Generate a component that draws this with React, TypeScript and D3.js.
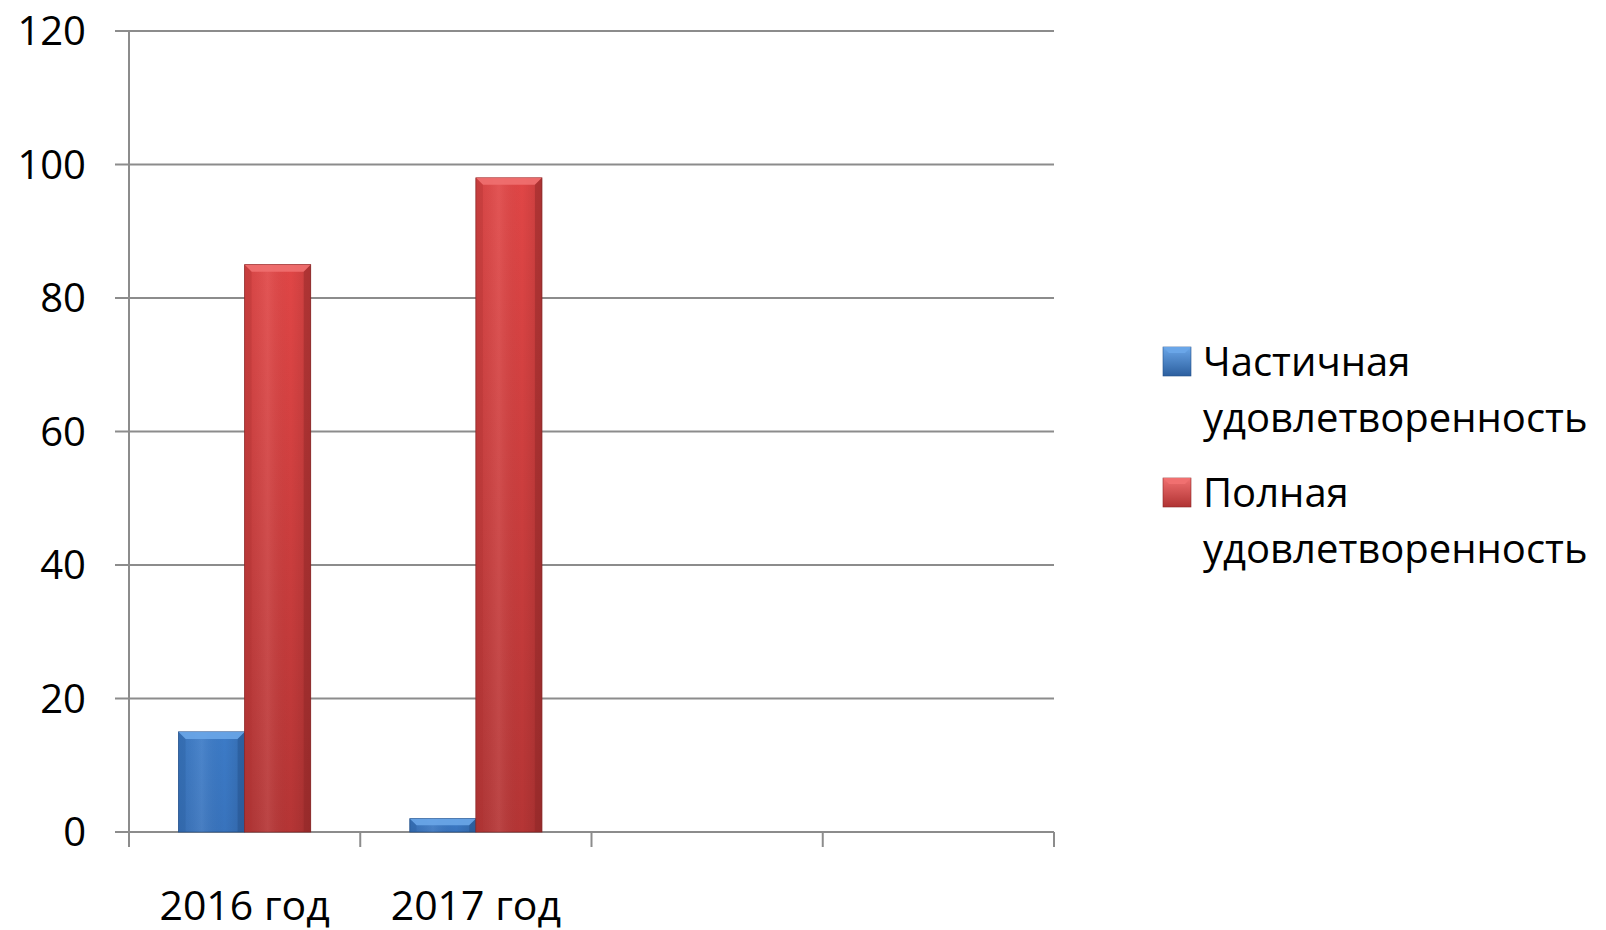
import React from "react";
import * as d3 from "d3";

const categories = ["2016 год", "2017 год", "", ""];
const seriesNames = ["Частичная удовлетворенность", "Полная удовлетворенность"];
const partial = [15, 2, null, null];
const full = [85, 98, null, null];
const yTicks = [0, 20, 40, 60, 80, 100, 120];

const W = 1606;
const H = 930;
const M = { left: 129, right: 1054, top: 31, bottom: 832 };
const FONT = "'Open Sans', 'Noto Sans', sans-serif";

const colors = [
  { light: "#6aa6e8", main: "#3c7bc7", dark: "#2c5f9f", edge: "#24508a" },
  { light: "#f07070", main: "#d94343", dark: "#b03333", edge: "#8c2626" },
];

export default function App() {
  const x = d3.scaleBand<string>().domain(categories.map((c, i) => String(i))).range([M.left, M.right]).paddingInner(0).paddingOuter(0);
  const y = d3.scaleLinear().domain([0, 120]).range([M.bottom, M.top]);
  const step = x.bandwidth();
  const barW = step / 3.5;
  const offset = (step - 2 * barW) / 2;
  const series = [partial, full];

  const bars: React.ReactNode[] = [];
  categories.forEach((c, i) => {
    series.forEach((s, si) => {
      const v = s[i];
      if (v == null) return;
      const x0 = (x(String(i)) as number) + offset + si * barW;
      const y0 = y(v);
      const h = y(0) - y0;
      const bv = Math.min(7, h / 2);
      bars.push(
        <g key={`${i}-${si}`}>
          <rect x={x0} y={y0} width={barW} height={h} fill={`url(#grad${si})`} stroke={colors[si].edge} strokeWidth={0.8} />
          <rect x={x0} y={y0} width={barW} height={h} fill={`url(#hgrad${si})`} />
          <polygon
            points={`${x0},${y0} ${x0 + barW},${y0} ${x0 + barW - bv},${y0 + bv} ${x0 + bv},${y0 + bv}`}
            fill={colors[si].light}
            opacity={0.9}
          />
          <polygon
            points={`${x0},${y0} ${x0 + bv},${y0 + bv} ${x0 + bv},${y0 + h} ${x0},${y0 + h}`}
            fill={colors[si].dark}
            opacity={0.35}
          />
          <polygon
            points={`${x0 + barW},${y0} ${x0 + barW - bv},${y0 + bv} ${x0 + barW - bv},${y0 + h} ${x0 + barW},${y0 + h}`}
            fill={colors[si].edge}
            opacity={0.45}
          />
        </g>
      );
    });
  });

  const legendY = [376, 507];
  const mk = 28;

  return (
    <svg width={W} height={H} style={{ position: "absolute", left: 0, top: 0, background: "#fff" }}>
      <defs>
        {colors.map((c, i) => (
          <linearGradient key={i} id={`grad${i}`} x1="0" y1="0" x2="0" y2="1">
            <stop offset="0%" stopColor={i === 1 ? "#e04646" : c.main} />
            <stop offset="100%" stopColor={i === 1 ? "#b53535" : "#3873bd"} />
          </linearGradient>
        ))}
        {colors.map((c, i) => (
          <linearGradient key={`h${i}`} id={`hgrad${i}`} x1="0" y1="0" x2="1" y2="0">
            <stop offset="0%" stopColor="#000" stopOpacity={0.05} />
            <stop offset="35%" stopColor="#fff" stopOpacity={0.08} />
            <stop offset="70%" stopColor="#000" stopOpacity={0.0} />
            <stop offset="100%" stopColor="#000" stopOpacity={0.12} />
          </linearGradient>
        ))}
        {colors.map((c, i) => (
          <linearGradient key={`l${i}`} id={`lgrad${i}`} x1="0" y1="0" x2="0" y2="1">
            <stop offset="0%" stopColor={c.light} />
            <stop offset="100%" stopColor={c.dark} />
          </linearGradient>
        ))}
      </defs>

      {/* gridlines */}
      {yTicks.map((t) => (
        <line key={t} x1={M.left - 14} x2={M.right} y1={y(t)} y2={y(t)} stroke="#8c8c8c" strokeWidth={2} />
      ))}
      {/* y axis */}
      <line x1={M.left} x2={M.left} y1={M.top} y2={M.bottom} stroke="#8c8c8c" strokeWidth={2} />
      {/* category ticks */}
      {categories.map((c, i) => (
        <line key={i} x1={x(String(i)) as number} x2={x(String(i)) as number} y1={M.bottom} y2={M.bottom + 15} stroke="#8c8c8c" strokeWidth={2} />
      ))}
      <line x1={M.right} x2={M.right} y1={M.bottom} y2={M.bottom + 15} stroke="#8c8c8c" strokeWidth={2} />

      {bars}

      {/* y tick labels */}
      {yTicks.map((t) => (
        <text key={t} x={86} y={y(t)} dy="0.36em" textAnchor="end" fontFamily={FONT} fontSize={40} fill="#000">
          {t}
        </text>
      ))}
      {/* x labels */}
      {categories.map((c, i) => (
        <text key={i} x={(x(String(i)) as number) + step / 2} y={920} textAnchor="middle" fontFamily={FONT} fontSize={41} fill="#000">
          {c}
        </text>
      ))}

      {/* legend */}
      {seriesNames.map((n, i) => {
        const words = n.split(" ");
        const top = legendY[i] - 29;
        return (
          <g key={i}>
            <rect x={1163} y={top} width={mk} height={29} fill={`url(#lgrad${i})`} stroke={colors[i].edge} strokeWidth={0.6} />
            <polygon
              points={`1163,${top} ${1163 + mk},${top} ${1163 + mk - 6},${top + 6} ${1169},${top + 6}`}
              fill={colors[i].light}
            />
            <text x={1203} y={legendY[i]} fontFamily={FONT} fontSize={40} fill="#000">
              {words[0]}
            </text>
            <text x={1203} y={legendY[i] + 56} fontFamily={FONT} fontSize={40} fill="#000">
              {words[1]}
            </text>
          </g>
        );
      })}
    </svg>
  );
}
